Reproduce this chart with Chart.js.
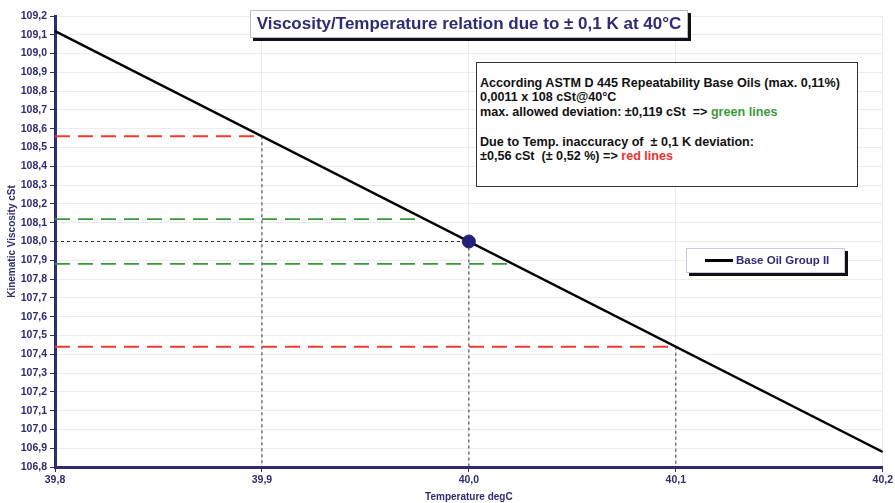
<!DOCTYPE html>
<html>
<head>
<meta charset="utf-8">
<script src="https://cdn.jsdelivr.net/npm/chart.js@4/dist/chart.umd.min.js"></script>
<style>
  html,body{margin:0;padding:0;background:#fff;}
  #wrap{position:relative;width:895px;height:503px;font-family:"Liberation Sans",Arial,sans-serif;}
  canvas{position:absolute;left:0;top:0;}
  .title{position:absolute;left:250px;top:10px;width:436px;height:26px;background:#fff;border:1px solid #b9b8e0;box-shadow:3px 3px 0 #111;
    font-weight:bold;font-size:17px;color:#2e2c74;line-height:26px;text-align:center;white-space:nowrap;}
  .info{position:absolute;left:476px;top:62px;width:380px;height:123px;background:#fff;border:1.5px solid #333;
    font-weight:bold;font-size:12.6px;color:#111;line-height:14.6px;box-sizing:content-box;}
  .info div{position:absolute;left:3px;white-space:nowrap;}
  .legend{position:absolute;left:686px;top:248px;width:157px;height:23px;background:#fff;border:1px solid #c9c8e8;box-shadow:3px 3px 0 #111;}
  .legend .ln{position:absolute;left:18px;top:10px;width:28px;height:2.5px;background:#000;}
  .legend .tx{position:absolute;left:49px;top:0;line-height:23px;font-weight:bold;font-size:11.5px;color:#2e2c74;white-space:nowrap;}
</style>
</head>
<body>
<div id="wrap">
<canvas id="c" width="895" height="503"></canvas>
<div class="title">Viscosity/Temperature relation due to ± 0,1 K at 40°C</div>
<div class="info">
  <div style="top:13px">According ASTM D 445 Repeatability Base Oils (max. 0,11%)</div>
  <div style="top:27px">0,0011 x 108 cSt@40°C</div>
  <div style="top:42px">max. allowed deviation: ±0,119 cSt&nbsp; =&gt; <span style="color:#3a9a3a">green lines</span></div>
  <div style="top:72px">Due to Temp. inaccuracy of&nbsp; ± 0,1 K deviation:</div>
  <div style="top:86px">±0,56 cSt&nbsp; (± 0,52 %) =&gt; <span style="color:#f03030">red lines</span></div>
</div>
<div class="legend"><div class="ln"></div><div class="tx">Base Oil Group II</div></div>
</div>
<script>
// ---- data ----
const tempRange = [39.8, 40.2];
const viscRange = [106.8, 109.2];
const baseOilTemp = [39.8, 40.2];
const baseOilVisc = [109.12, 106.88];
const refPoint = [40.0, 108.0];
const redUpper = {temp: [39.8, 39.9], visc: 108.56};
const redLower = {temp: [39.8, 40.1], visc: 107.44};
const greenUpper = {temp: [39.8, 39.979], visc: 108.119};
const greenLower = {temp: [39.8, 40.021], visc: 107.881};
const dropTemps = [39.9, 40.0, 40.1];
const dropVisc = [108.56, 108.0, 107.44];

const navy = '#2e2c74';
const fmt = v => (Math.round(v*10)/10).toFixed(1).replace('.', ',');

function hline(seg, color){
  return {data: seg.temp.map(t => ({x: t, y: seg.visc})), borderColor: color, borderWidth: 1.8,
    borderDash: [15, 8], pointRadius: 0, fill: false, order: 5};
}
const datasets = [
  {label:'point', data:[{x:refPoint[0], y:refPoint[1]}], showLine:false, pointRadius:6.5,
   pointBackgroundColor:'#23207a', pointBorderColor:'#23207a', order:0},
  {label:'Base Oil Group II', data: baseOilTemp.map((t,i)=>({x:t, y:baseOilVisc[i]})),
   borderColor:'#000', borderWidth:2.5, pointRadius:0, fill:false, order:1},
  hline(redUpper, '#f03a30'), hline(redLower, '#f03a30'),
  hline(greenUpper, '#3c963c'), hline(greenLower, '#3c963c'),
  {data:[{x:tempRange[0], y:refPoint[1]},{x:refPoint[0], y:refPoint[1]}], borderColor:'#333', borderWidth:1,
   borderDash:[3,3], pointRadius:0, order:6}
];
dropTemps.forEach((t,i)=>{
  datasets.push({data:[{x:t, y:dropVisc[i]},{x:t, y:viscRange[0]}], borderColor:'#333', borderWidth:1,
    borderDash:[3,3], pointRadius:0, order:6});
});

const tickFont = {family:'"Liberation Sans", Arial', weight:'bold', size:10.5};
new Chart(document.getElementById('c'), {
  type:'line',
  data:{datasets},
  options:{
    responsive:false, animation:false,
    layout:{padding:{top:16, right:12, left:6, bottom:0}},
    plugins:{legend:{display:false}, tooltip:{enabled:false}},
    scales:{
      x:{type:'linear', min:tempRange[0], max:tempRange[1],
        border:{color:navy, width:3},
        grid:{color:'#ececec', tickColor:navy, tickLength:5, lineWidth:1},
        ticks:{stepSize:0.1, autoSkip:false, color:navy, font:tickFont,
          callback:v=>fmt(v), padding:2, maxRotation:0},
        title:{display:true, text:'Temperature degC', color:navy, font:{family:'"Liberation Sans", Arial', weight:'bold', size:10}, padding:{top:2,bottom:0}},
        afterFit:s=>{s.height=36;}
      },
      y:{type:'linear', min:viscRange[0], max:viscRange[1],
        border:{color:navy, width:3},
        grid:{color:'#ececec', tickColor:navy, tickLength:5, lineWidth:1},
        ticks:{stepSize:0.1, autoSkip:false, color:navy, font:tickFont,
          callback:v=>fmt(v), padding:3},
        title:{display:true, text:'Kinematic Viscosity cSt', color:navy, font:{family:'"Liberation Sans", Arial', weight:'bold', size:10}, padding:{top:0,bottom:2}},
        afterFit:s=>{s.width=49;}
      }
    }
  }
});
</script>
</body>
</html>
